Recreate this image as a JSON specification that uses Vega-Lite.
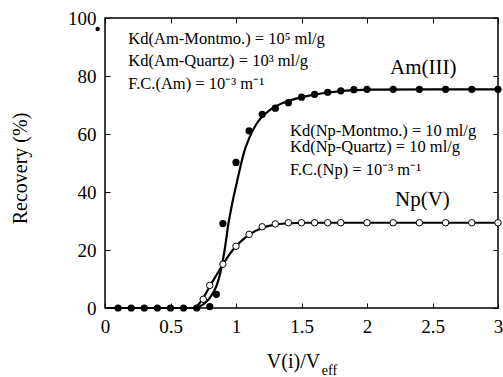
{
  "$schema": "https://vega.github.io/schema/vega-lite/v6.json",
  "width": 393,
  "height": 290,
  "autosize": {"type": "none"},
  "padding": {"left": 105, "top": 18, "right": 5, "bottom": 69},
  "background": "white",
  "config": {
    "view": {"stroke": "black", "strokeWidth": 1.5},
    "font": "Liberation Serif",
    "text": {"font": "Liberation Serif"},
    "axis": {
      "domain": false,
      "grid": false,
      "tickColor": "black",
      "tickSize": -5,
      "tickWidth": 1,
      "labelFont": "Liberation Serif",
      "labelFontSize": 19,
      "labelColor": "black",
      "titleFont": "Liberation Serif",
      "titleFontSize": 20,
      "titleFontWeight": "normal",
      "titleColor": "black"
    }
  },
  "datasets": {
    "amFit": [
      {"x": 0, "y": 0}, {"x": 0.6, "y": 0}, {"x": 0.68, "y": 0}, {"x": 0.72, "y": 0.5},
      {"x": 0.76, "y": 1.6}, {"x": 0.8, "y": 3.5}, {"x": 0.85, "y": 7.5}, {"x": 0.88, "y": 12},
      {"x": 0.9, "y": 16.5}, {"x": 0.92, "y": 22}, {"x": 0.94, "y": 28.5}, {"x": 0.96, "y": 33.5},
      {"x": 0.98, "y": 38}, {"x": 1.0, "y": 42}, {"x": 1.03, "y": 48}, {"x": 1.06, "y": 53.5},
      {"x": 1.1, "y": 58.5}, {"x": 1.15, "y": 63}, {"x": 1.2, "y": 66}, {"x": 1.25, "y": 68},
      {"x": 1.3, "y": 69.5}, {"x": 1.4, "y": 71.4}, {"x": 1.5, "y": 72.7}, {"x": 1.6, "y": 73.6},
      {"x": 1.7, "y": 74.3}, {"x": 1.8, "y": 74.8}, {"x": 1.9, "y": 75.1}, {"x": 2.0, "y": 75.3},
      {"x": 2.5, "y": 75.4}, {"x": 3.0, "y": 75.4}
    ],
    "npFit": [
      {"x": 0, "y": 0}, {"x": 0.68, "y": 0}, {"x": 0.71, "y": 1}, {"x": 0.74, "y": 2.8},
      {"x": 0.77, "y": 5}, {"x": 0.8, "y": 7.5}, {"x": 0.85, "y": 11.3}, {"x": 0.9, "y": 15},
      {"x": 0.95, "y": 18.5}, {"x": 1.0, "y": 21.3}, {"x": 1.05, "y": 23.5}, {"x": 1.1, "y": 25.2},
      {"x": 1.15, "y": 26.6}, {"x": 1.2, "y": 27.6}, {"x": 1.25, "y": 28.3}, {"x": 1.3, "y": 28.8},
      {"x": 1.4, "y": 29.2}, {"x": 1.5, "y": 29.4}, {"x": 1.7, "y": 29.4}, {"x": 2.0, "y": 29.4},
      {"x": 3.0, "y": 29.4}
    ],
    "amPts": [
      {"x": 0.1, "y": 0}, {"x": 0.2, "y": 0}, {"x": 0.3, "y": 0}, {"x": 0.4, "y": 0},
      {"x": 0.5, "y": 0}, {"x": 0.6, "y": 0}, {"x": 0.7, "y": 0}, {"x": 0.8, "y": 0.5},
      {"x": 0.85, "y": 4.7}, {"x": 0.9, "y": 29.1}, {"x": 1.0, "y": 50.2}, {"x": 1.1, "y": 61.1},
      {"x": 1.2, "y": 66.8}, {"x": 1.3, "y": 68.9}, {"x": 1.4, "y": 70.8}, {"x": 1.5, "y": 72.7},
      {"x": 1.6, "y": 73.7}, {"x": 1.7, "y": 74.4}, {"x": 1.8, "y": 74.9}, {"x": 1.9, "y": 75.3},
      {"x": 2.0, "y": 75.4}, {"x": 2.2, "y": 75.4}, {"x": 2.4, "y": 75.4}, {"x": 2.6, "y": 75.4},
      {"x": 2.8, "y": 75.4}, {"x": 3.0, "y": 75.4}
    ],
    "npPts": [
      {"x": 0.75, "y": 3.0}, {"x": 0.8, "y": 7.8}, {"x": 0.9, "y": 15.1}, {"x": 1.0, "y": 21.3},
      {"x": 1.1, "y": 25.4}, {"x": 1.2, "y": 28.0}, {"x": 1.3, "y": 29.0}, {"x": 1.4, "y": 29.4},
      {"x": 1.5, "y": 29.4}, {"x": 1.6, "y": 29.4}, {"x": 1.7, "y": 29.4}, {"x": 1.8, "y": 29.4},
      {"x": 2.0, "y": 29.4}, {"x": 2.2, "y": 29.4}, {"x": 2.4, "y": 29.4}, {"x": 2.6, "y": 29.4},
      {"x": 2.8, "y": 29.4}, {"x": 3.0, "y": 29.4}
    ],
    "stray": [{"x": -0.056, "y": 96.2}],
    "notes": [
      {"x": 0.178, "y": 91.2, "text": "Kd(Am-Montmo.) = 10⁵ ml/g"},
      {"x": 0.178, "y": 83.3, "text": "Kd(Am-Quartz) = 10³ ml/g"},
      {"x": 0.178, "y": 75.5, "text": "F.C.(Am) = 10⁻³ m⁻¹"},
      {"x": 1.412, "y": 59.3, "text": "Kd(Np-Montmo.) = 10 ml/g"},
      {"x": 1.412, "y": 53.9, "text": "Kd(Np-Quartz) = 10 ml/g"},
      {"x": 1.412, "y": 45.9, "text": "F.C.(Np) = 10⁻³ m⁻¹"}
    ],
    "series": [
      {"x": 2.176, "y": 80.7, "text": "Am(III)"},
      {"x": 2.214, "y": 35.2, "text": "Np(V)"}
    ],
    "sub": [{"x": 1.655, "y": -23.2, "text": "eff"}]
  },
  "layer": [
    {
      "data": {"name": "amFit"},
      "mark": {"type": "line", "color": "black", "strokeWidth": 2.2, "interpolate": "monotone"},
      "encoding": {
        "x": {"field": "x", "type": "quantitative",
              "scale": {"domain": [0, 3], "nice": false, "zero": false},
              "axis": {"values": [0, 0.5, 1, 1.5, 2, 2.5, 3], "labelExpr": "'' + datum.value",
                       "title": "V(i)/V", "labelPadding": 14, "titleX": 188, "titleY": 59,
                       "titleBaseline": "alphabetic", "labelFlush": false,
                       "labelFont": "Liberation Serif", "titleFont": "Liberation Serif",
                       "labelFontSize": 19, "titleFontSize": 20}},
        "y": {"field": "y", "type": "quantitative",
              "scale": {"domain": [0, 100], "nice": false, "zero": false},
              "axis": {"values": [0, 20, 40, 60, 80, 100], "title": "Recovery (%)",
                       "labelPadding": 14, "titleX": -85, "titleY": 150,
                       "titleBaseline": "middle", "labelFlush": false,
                       "labelFont": "Liberation Serif", "titleFont": "Liberation Serif",
                       "labelFontSize": 19, "titleFontSize": 20}}
      }
    },
    {
      "data": {"name": "npFit"},
      "mark": {"type": "line", "color": "black", "strokeWidth": 2.2, "interpolate": "monotone"},
      "encoding": {
        "x": {"field": "x", "type": "quantitative", "scale": {"domain": [0, 3], "nice": false, "zero": false}, "axis": null},
        "y": {"field": "y", "type": "quantitative", "scale": {"domain": [0, 100], "nice": false, "zero": false}, "axis": null}
      }
    },
    {
      "data": {"name": "npPts"},
      "mark": {"type": "point", "shape": "circle", "filled": true, "fill": "white", "stroke": "black", "strokeWidth": 1, "size": 42, "opacity": 1},
      "encoding": {
        "x": {"field": "x", "type": "quantitative", "scale": {"domain": [0, 3], "nice": false, "zero": false},
              "axis": {"orient": "top", "values": [0, 0.5, 1, 1.5, 2, 2.5, 3], "labels": false, "title": null}},
        "y": {"field": "y", "type": "quantitative", "scale": {"domain": [0, 100], "nice": false, "zero": false},
              "axis": {"orient": "right", "values": [0, 20, 40, 60, 80, 100], "labels": false, "title": null}}
      }
    },
    {
      "data": {"name": "amPts"},
      "mark": {"type": "point", "shape": "circle", "filled": true, "color": "black", "size": 52, "opacity": 1},
      "encoding": {
        "x": {"field": "x", "type": "quantitative", "scale": {"domain": [0, 3], "nice": false, "zero": false}, "axis": null},
        "y": {"field": "y", "type": "quantitative", "scale": {"domain": [0, 100], "nice": false, "zero": false}, "axis": null}
      }
    },
    {
      "data": {"name": "stray"},
      "mark": {"type": "point", "shape": "circle", "filled": true, "color": "black", "size": 20, "opacity": 1},
      "encoding": {
        "x": {"field": "x", "type": "quantitative", "scale": {"domain": [0, 3], "nice": false, "zero": false}, "axis": null},
        "y": {"field": "y", "type": "quantitative", "scale": {"domain": [0, 100], "nice": false, "zero": false}, "axis": null}
      }
    },
    {
      "data": {"name": "notes"},
      "mark": {"type": "text", "align": "left", "baseline": "alphabetic", "fontSize": 16.5, "font": "Liberation Serif", "color": "black"},
      "encoding": {
        "x": {"field": "x", "type": "quantitative", "scale": {"domain": [0, 3], "nice": false, "zero": false}, "axis": null},
        "y": {"field": "y", "type": "quantitative", "scale": {"domain": [0, 100], "nice": false, "zero": false}, "axis": null},
        "text": {"field": "text"}
      }
    },
    {
      "data": {"name": "series"},
      "mark": {"type": "text", "align": "left", "baseline": "alphabetic", "fontSize": 21, "font": "Liberation Serif", "color": "black"},
      "encoding": {
        "x": {"field": "x", "type": "quantitative", "scale": {"domain": [0, 3], "nice": false, "zero": false}, "axis": null},
        "y": {"field": "y", "type": "quantitative", "scale": {"domain": [0, 100], "nice": false, "zero": false}, "axis": null},
        "text": {"field": "text"}
      }
    },
    {
      "data": {"name": "sub"},
      "mark": {"type": "text", "align": "left", "baseline": "alphabetic", "fontSize": 14, "font": "Liberation Serif", "color": "black"},
      "encoding": {
        "x": {"field": "x", "type": "quantitative", "scale": {"domain": [0, 3], "nice": false, "zero": false}, "axis": null},
        "y": {"field": "y", "type": "quantitative", "scale": {"domain": [0, 100], "nice": false, "zero": false}, "axis": null},
        "text": {"field": "text"}
      }
    }
  ],
  "resolve": {"axis": {"x": "independent", "y": "independent"}}
}
